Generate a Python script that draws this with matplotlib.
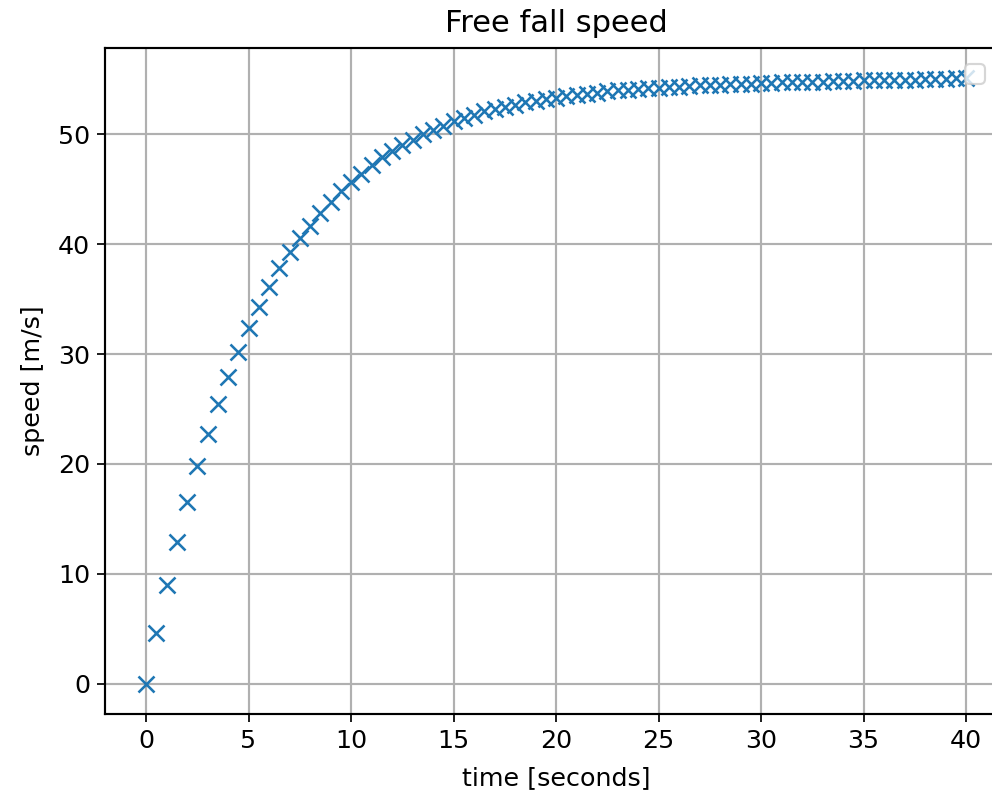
import numpy as np
import matplotlib
matplotlib.use('Agg')
import matplotlib.pyplot as plt

# time samples every half second, speed
time = np.arange(0, 40.5, 0.5)
speed = [
    0.0, 4.6, 9.0, 12.9, 16.5, 19.8, 22.7, 25.5, 27.9, 30.2,
    32.4, 34.3, 36.1, 37.8, 39.3, 40.6, 41.7, 42.8, 43.8, 44.8,
    45.7, 46.4, 47.2, 47.9, 48.5, 49.0, 49.5, 50.0, 50.4, 50.8,
    51.2, 51.5, 51.8, 52.1, 52.3, 52.5, 52.7, 52.9, 53.05, 53.2,
    53.35, 53.5, 53.6, 53.7, 53.8, 53.9, 54.0, 54.05, 54.1, 54.2,
    54.25, 54.3, 54.35, 54.4, 54.45, 54.5, 54.5, 54.55, 54.6, 54.6,
    54.65, 54.7, 54.75, 54.75, 54.8, 54.8, 54.8, 54.85, 54.85, 54.85,
    54.9, 54.9, 54.9, 54.9, 54.95, 54.95, 55.0, 55.05, 55.05, 55.1,
    55.1,
]

plt.rcParams['font.size'] = 11.8
plt.rcParams['axes.linewidth'] = 1.0
plt.rcParams['grid.linewidth'] = 1.0

fig = plt.figure(figsize=(6.4, 794 / 155), dpi=155)
# right edge of the axes runs just past the canvas, like the reference crop
ax = fig.add_axes([105 / 992, 80 / 794, 902 / 992, 666 / 794])

ax.plot(time, speed, 'x', markersize=7, markeredgewidth=1.2)
ax.set_title('Free fall speed', pad=7.5)
ax.set_xlabel('time [seconds]', labelpad=6)
ax.set_ylabel('speed [m/s]', labelpad=6)
ax.grid(True)
ax.legend(handles=[], loc='upper right', bbox_to_anchor=(0.99, 0.995))

fig.savefig('out.png', dpi=155)
